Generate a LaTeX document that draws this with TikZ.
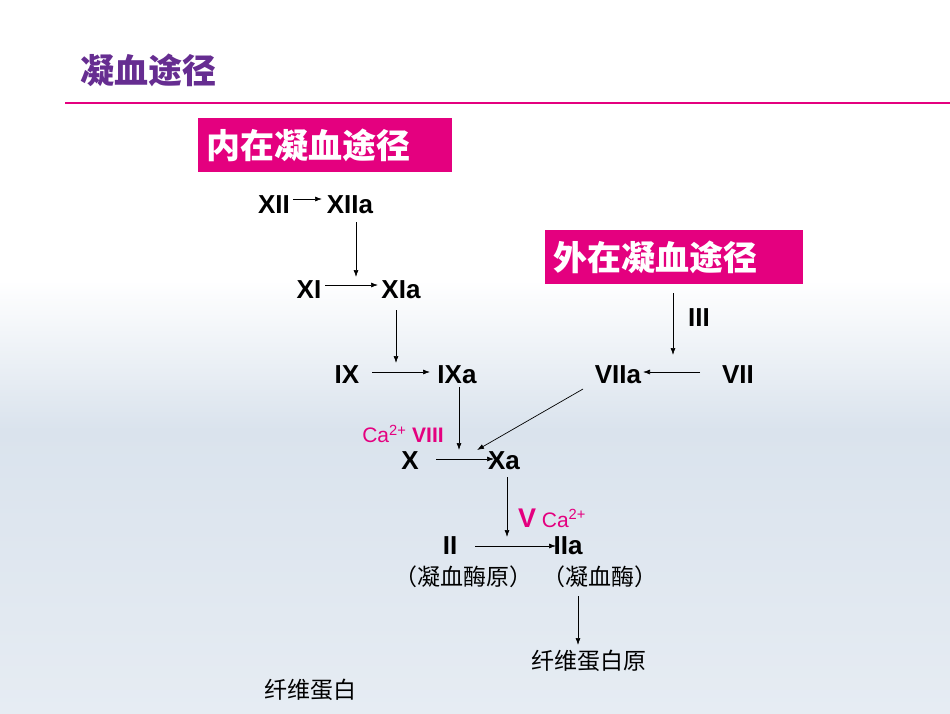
\documentclass[tikz,border=0pt]{standalone}
\usepackage{fontspec}
\setmainfont{Liberation Sans}
\newfontfamily\cjk{Noto Sans CJK SC}
\usetikzlibrary{arrows.meta}
\definecolor{mag}{RGB}{228,0,127}
\definecolor{ttl}{RGB}{102,45,145}
\definecolor{bgB}{RGB}{218,227,237}
\definecolor{bgC}{RGB}{230,236,243}
\tikzset{
 f/.style={font=\fontsize{26}{26}\selectfont\bfseries, inner sep=0pt},
 lab/.style={font=\fontsize{21}{21}\selectfont, text=mag, inner sep=0pt},
 zh/.style={font=\cjk\fontsize{23}{23}\selectfont, inner sep=0pt},
 box/.style={fill=mag, text=white, font=\cjk\fontsize{34}{34}\selectfont\bfseries, inner sep=0pt, minimum height=54pt, align=left},
 ar/.style={-{Latex[length=7pt,width=5pt]}, line width=0.7pt}
}
\begin{document}
\begin{tikzpicture}[x=1pt,y=-1pt]
\useasboundingbox (0,0) rectangle (950,713);
\fill[white] (0,0) rectangle (950,280);
\shade[top color=white, bottom color=bgB] (0,280) rectangle (950,430);
\shade[top color=bgB, bottom color=bgC] (0,430) rectangle (950,713);
\node[font=\cjk\fontsize{34}{34}\selectfont\bfseries, text=ttl, anchor=west, inner sep=0pt] (title) at (80,70) {凝血途径};
\draw[mag, line width=1.5pt] (65,103) -- (950,103);
\node[box, minimum width=254pt, anchor=west, inner xsep=8pt, text width=238pt] (intr) at (198,145) {内在凝血途径};
\node[box, minimum width=258pt, anchor=west, inner xsep=8pt, text width=242pt] (extr) at (545,257) {外在凝血途径};
\node[f] (n12) at (274,205) {XII};
\node[f] (n12a) at (350,205) {XIIa};
\node[f] (n11) at (309,290) {XI};
\node[f] (n11a) at (401,290) {XIa};
\node[f] (n9) at (347,375) {IX};
\node[f] (n9a) at (457,375) {IXa};
\node[f] (n7a) at (618,375) {VIIa};
\node[f] (n7) at (738,375) {VII};
\node[f] (n3) at (699,318) {III};
\node[lab] (c8) at (403,434) {Ca\textsuperscript{2+} \textbf{VIII}};
\node[f] (n10) at (410,461) {X};
\node[f] (n10a) at (504,461) {Xa};
\node[lab] (c5) at (552,518) {\textbf{\fontsize{27}{27}\selectfont V} Ca\textsuperscript{2+}};
\node[f] (n2) at (450,546) {II};
\node[f] (n2a) at (568,546) {IIa};
\node[zh] (z1) at (463,577) {（凝血酶原）};
\node[zh] (z2) at (600,577) {（凝血酶）};
\node[zh] (z3) at (589,661) {纤维蛋白原};
\node[zh] (z4) at (310,690) {纤维蛋白};
\coordinate (a1) at (356,222); \coordinate (a2) at (356,277);
\coordinate (b1) at (396,310); \coordinate (b2) at (396,363);
\coordinate (c1) at (459,387); \coordinate (c2) at (459,450);
\coordinate (d1) at (583,389); \coordinate (d2) at (477,450);
\coordinate (e1) at (673,293); \coordinate (e2) at (673,355);
\coordinate (g1) at (507,477); \coordinate (g2) at (507,537);
\coordinate (h1) at (578,596); \coordinate (h2) at (578,645);
\draw[ar] (293,199) -- (322,199);
\draw[ar] (a1) -- (a2);
\draw[ar] (325,285) -- (378,285);
\draw[ar] (b1) -- (b2);
\draw[ar] (372,372) -- (430,372);
\draw[ar] (c1) -- (c2);
\draw[ar] (700,372) -- (643,372);
\draw[ar] (e1) -- (e2);
\draw[ar] (d1) -- (d2);
\draw[ar] (436,459) -- (494,459);
\draw[ar] (g1) -- (g2);
\draw[ar] (475,546) -- (556,546);
\draw[ar] (h1) -- (h2);
\end{tikzpicture}
\end{document}
